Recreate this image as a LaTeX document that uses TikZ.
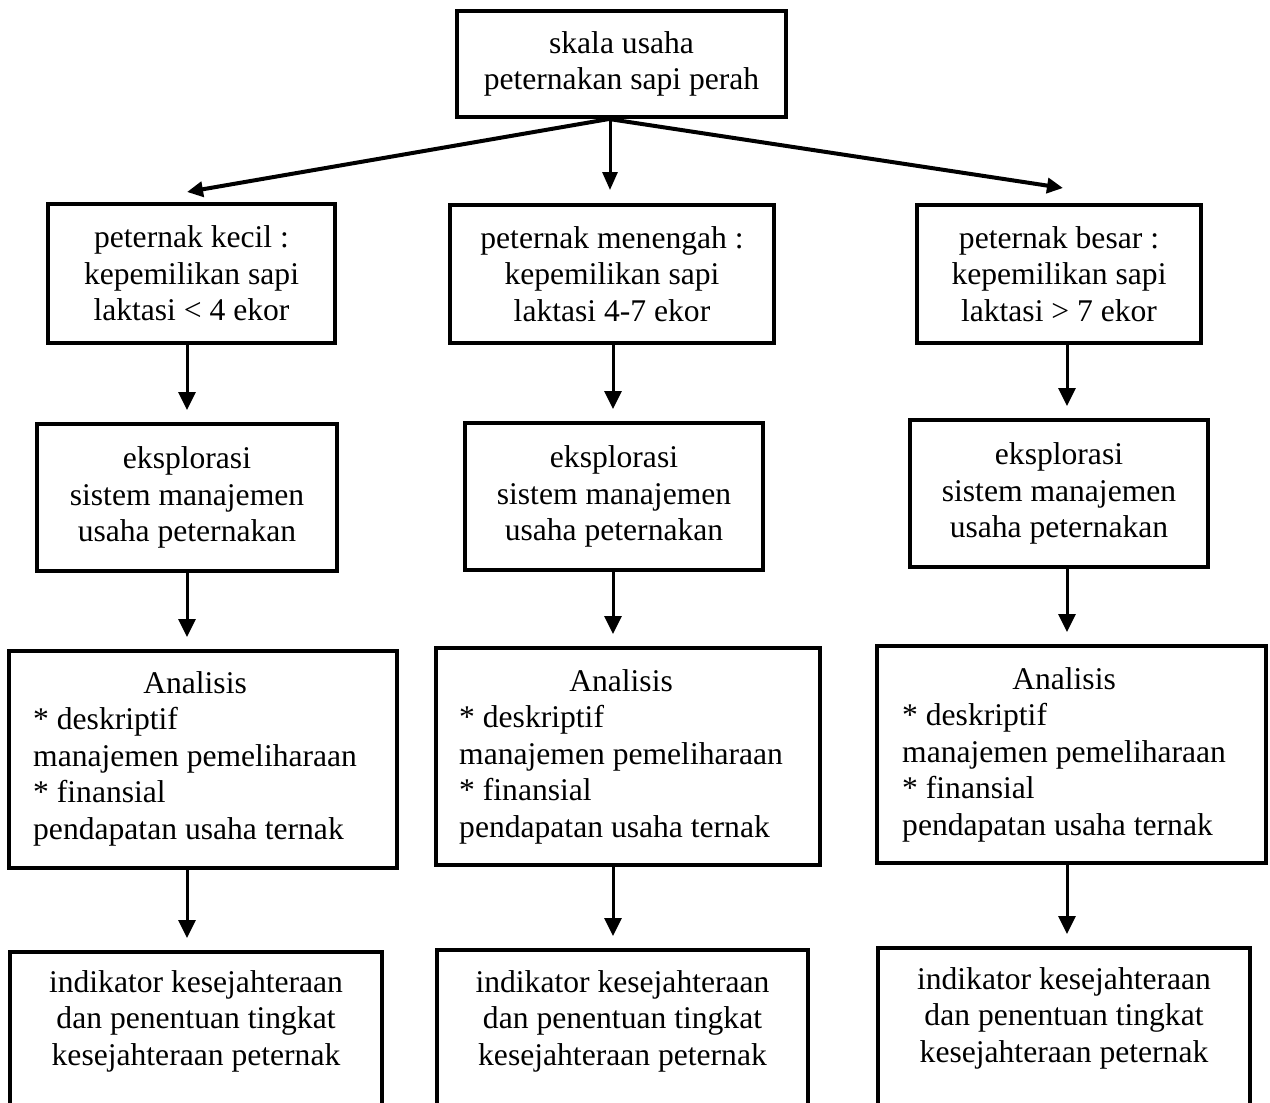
\documentclass[tikz,border=0pt]{standalone}
\usepackage{fontspec}
\setmainfont{Liberation Serif}
\usetikzlibrary{arrows.meta}

\tikzset{
  box/.style={draw, line width=4pt, rectangle, inner sep=0pt, align=center,
    font=\fontsize{31.6}{36.5}\selectfont},
  txt/.style={inner sep=0pt, align=center, font=\fontsize{31.6}{36.5}\selectfont},
  arr/.style={line width=3pt, -{Triangle[length=18pt,width=17pt]}, shorten >=12pt},
  fan/.style={line width=4pt, -{Triangle[length=16pt,width=15pt]}}
}

\begin{document}
\begin{tikzpicture}[x=1pt,y=-1pt]
  \clip (0,0) rectangle (1270,1103);
  \useasboundingbox (0,0) rectangle (1270,1103);
  \fill[white] (0,0) rectangle (1270,1103);

  % column guides for the vertical connectors
  \coordinate (cL) at (187,0);
  \coordinate (cC) at (613,0);
  \coordinate (cR) at (1067,0);

  % head of the chart
  \node[box, minimum width=329pt, minimum height=106pt] (top) at (621.5,64)
    {skala usaha\\peternakan sapi perah};

  % farm size classes
  \node[box, minimum width=287pt, minimum height=139pt] (r1L) at (191.5,273.5)
    {peternak kecil :\\kepemilikan sapi\\laktasi < 4 ekor};
  \node[box, minimum width=324pt, minimum height=138pt] (r1C) at (612,274)
    {peternak menengah :\\kepemilikan sapi\\laktasi 4-7 ekor};
  \node[box, minimum width=284pt, minimum height=138pt] (r1R) at (1059,274)
    {peternak besar :\\kepemilikan sapi\\laktasi > 7 ekor};

  % exploration
  \node[box, minimum width=300pt, minimum height=147pt] (r2L) at (187,497.5)
    {eksplorasi\\sistem manajemen\\usaha peternakan};
  \node[box, minimum width=298pt, minimum height=147pt] (r2C) at (614,496.5)
    {eksplorasi\\sistem manajemen\\usaha peternakan};
  \node[box, minimum width=298pt, minimum height=147pt] (r2R) at (1059,493.5)
    {eksplorasi\\sistem manajemen\\usaha peternakan};

  % analysis
  \node[box, minimum width=388pt, minimum height=217pt] (r3L) at (203,759.5) {};
  \node[box, minimum width=384pt, minimum height=217pt] (r3C) at (628,756.5) {};
  \node[box, minimum width=389pt, minimum height=217pt] (r3R) at (1071.5,754.5) {};
  \newcommand\analysistext{%
    \begin{tabular}{@{}l@{}}
      \multicolumn{1}{@{}c@{}}{Analisis}\\
      {*} deskriptif\\
      manajemen pemeliharaan\\
      {*} finansial\\
      pendapatan usaha ternak
    \end{tabular}}
  \node[txt, anchor=west] (t3L) at (33,759) {\analysistext};
  \node[txt, anchor=west] (t3C) at (459,757) {\analysistext};
  \node[txt, anchor=west] (t3R) at (902,755) {\analysistext};

  % welfare indicators
  \node[box, minimum width=372pt, minimum height=188pt] (r4L) at (196,1046) {};
  \node[box, minimum width=371pt, minimum height=190pt] (r4C) at (622.5,1045) {};
  \node[box, minimum width=372pt, minimum height=192pt] (r4R) at (1064,1044) {};
  \node[txt] (t4L) at (196,1021)
    {indikator kesejahteraan\\dan penentuan tingkat\\kesejahteraan peternak};
  \node[txt] (t4C) at (622.5,1021)
    {indikator kesejahteraan\\dan penentuan tingkat\\kesejahteraan peternak};
  \node[txt] (t4R) at (1064,1018)
    {indikator kesejahteraan\\dan penentuan tingkat\\kesejahteraan peternak};

  % fan-out from the head
  \coordinate (o) at (609,0);
  \coordinate (tL) at (187,192);
  \coordinate (tC) at (610,190);
  \coordinate (tR) at (1063,188);
  \draw[fan] (top.south -| o) -- (tL);
  \draw[line width=3pt, -{Triangle[length=18pt,width=15pt]}] (top.south -| tC) -- (tC);
  \draw[fan] (top.south -| o) -- (tR);

  % vertical connectors
  \foreach \col/\c in {L/cL, C/cC, R/cR}{
    \draw[arr] (r1\col.south -| \c) -- (r2\col.north -| \c);
    \draw[arr] (r2\col.south -| \c) -- (r3\col.north -| \c);
    \draw[arr] (r3\col.south -| \c) -- (r4\col.north -| \c);
  }
\end{tikzpicture}
\end{document}
